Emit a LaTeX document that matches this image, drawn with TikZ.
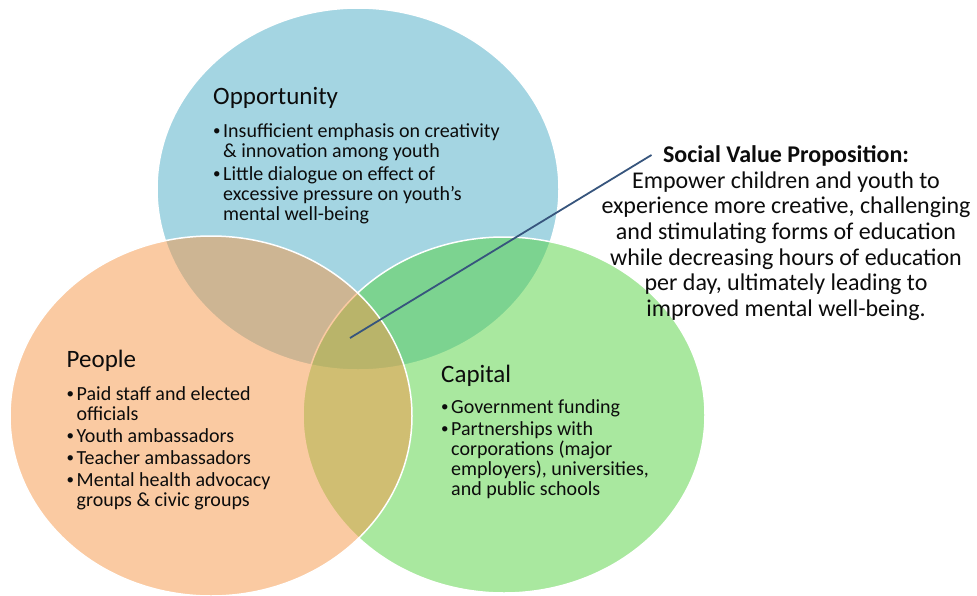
\documentclass[tikz,border=0pt]{standalone}
\usepackage{fontspec}
\setmainfont{Carlito}
\definecolor{oppblue}{RGB}{75,172,198}
\definecolor{capgreen}{RGB}{85,211,64}
\definecolor{peoorange}{RGB}{247,150,70}
\definecolor{txtcol}{RGB}{12,12,12}
\definecolor{linkblue}{RGB}{55,85,125}
\newcommand\bul{\makebox[10pt][l]{\raisebox{1.6pt}{\fontsize{15}{15}\selectfont •}}}
\newcommand\ind{\hspace*{10pt}}
\begin{document}
\begin{tikzpicture}[x=1pt,y=-1pt,
  venn/.style={draw=white, line width=1.5pt, fill opacity=0.5},
  vtitle/.style={anchor=base west, inner sep=0pt, font=\fontsize{25}{30}\selectfont, text=txtcol},
  vitem/.style={anchor=base west, inner sep=0pt, font=\fontsize{20}{24}\selectfont, text=txtcol},
  svptext/.style={anchor=base, inner sep=0pt, font=\fontsize{24}{28}\selectfont, text=txtcol},
  link/.style={draw=linkblue, line width=1.8pt},
]
\useasboundingbox (0,0) rectangle (977,595);
\fill[white] (0,0) rectangle (977,595);

% circles (drawing order: blue, green, orange)
\path[venn, fill=oppblue] (358,189) ellipse [x radius=201pt, y radius=181pt];
\path[venn, fill=capgreen] (504,415) ellipse [x radius=201pt, y radius=178pt];
\path[venn, fill=peoorange] (211,416) ellipse [x radius=201pt, y radius=180pt];

% Opportunity
\node[vtitle] (opp-title) at (213,104) {Opportunity};
\foreach \yy/\tt [count=\i] in {
  137/{\bul Insufficient emphasis on creativity},
  157/{\ind \& innovation among youth},
  180/{\bul Little dialogue on effect of},
  200/{\ind excessive pressure on youth’s},
  220/{\ind mental well-being}}
  \node[vitem] (opp-\i) at (213,\yy) {\tt};

% People
\node[vtitle] (peo-title) at (66.5,367) {People};
\foreach \yy/\tt [count=\i] in {
  400/{\bul Paid staff and elected},
  420/{\ind officials},
  442/{\bul Youth ambassadors},
  464/{\bul Teacher ambassadors},
  486/{\bul Mental health advocacy},
  506/{\ind groups \& civic groups}}
  \node[vitem] (peo-\i) at (66.5,\yy) {\tt};

% Capital
\node[vtitle] (cap-title) at (441,382) {Capital};
\foreach \yy/\tt [count=\i] in {
  413/{\bul Government funding},
  435/{\bul Partnerships with},
  455/{\ind corporations (major},
  475/{\ind employers), universities,},
  495/{\ind and public schools}}
  \node[vitem] (cap-\i) at (441,\yy) {\tt};

% Social value proposition
\node[svptext, font=\fontsize{24}{28}\selectfont\bfseries] (svp-0) at (786,162) {Social Value Proposition:};
\foreach \yy/\tt [count=\i] in {
  188/{Empower children and youth to},
  213.5/{experience more creative, challenging},
  239/{and stimulating forms of education},
  265/{while decreasing hours of education},
  290.5/{per day, ultimately leading to},
  316/{improved mental well-being.}}
  \node[svptext] (svp-\i) at (786,\yy) {\tt};

% connector
\coordinate (hub) at (350,338);
\coordinate (svpend) at (651.5,155);
\draw[link] (hub) -- (svpend);
\end{tikzpicture}
\end{document}
